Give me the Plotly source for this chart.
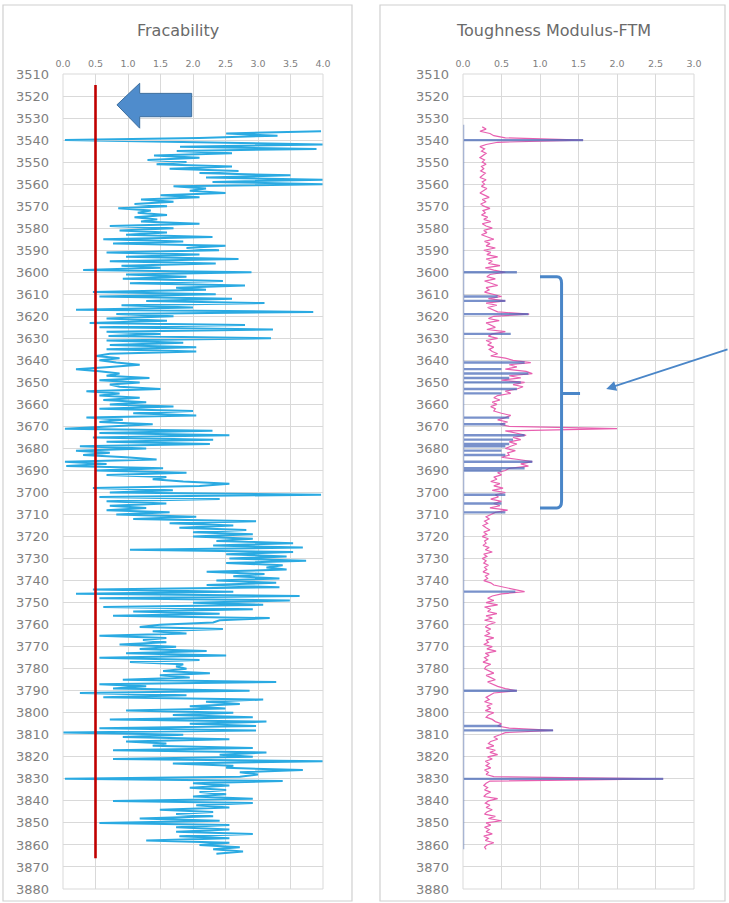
import numpy as np
import plotly.graph_objects as go

# ---------------------------------------------------------------- data
# Fracability log, one sample per metre starting at 3536 m
frac_top = 3536
frac_values = [
    3.97, 2.51, 3.3, 2.1, 0.03, 2.4, 4.0, 1.8, 3.9, 1.75,
    2.6, 1.4, 2.1, 1.3, 1.9, 1.44, 2.6, 1.64, 2.7, 2.1,
    3.5, 2.2, 4.0, 2.3, 4.0, 1.7, 2.2, 1.95, 2.5, 1.5,
    2.1, 1.2, 1.7, 1.1, 1.6, 0.85, 1.35, 1.15, 1.6, 1.1,
    1.45, 1.2, 2.1, 0.72, 1.7, 0.87, 1.6, 0.97, 2.3, 0.62,
    1.85, 0.77, 2.5, 1.9, 2.4, 0.67, 2.1, 0.97, 2.7, 0.72,
    2.35, 0.9, 1.5, 0.31, 2.9, 0.97, 1.9, 0.92, 2.46, 1.03,
    2.8, 1.74, 2.2, 0.46, 2.35, 0.56, 2.6, 1.28, 3.1, 0.9,
    2.0, 0.2, 3.85, 0.82, 1.7, 0.67, 1.6, 0.41, 2.8, 0.56,
    3.23, 0.67, 1.5, 0.7, 3.2, 0.67, 1.85, 0.72, 2.05, 0.67,
    2.05, 0.72, 0.51, 0.87, 0.56, 0.82, 1.18, 0.72, 0.2, 0.56,
    0.87, 0.67, 1.33, 0.56, 1.18, 0.72, 0.87, 1.5, 0.36, 0.87,
    0.56, 1.18, 0.62, 1.28, 0.72, 1.7, 0.56, 2.0, 1.08, 2.05,
    0.36, 0.92, 0.56, 1.38, 0.62, 0.03, 2.3, 0.56, 2.56, 0.46,
    2.31, 0.67, 2.26, 0.26, 1.28, 0.2, 0.72, 0.31, 0.97, 1.44,
    0.03, 0.67, 0.05, 1.54, 0.51, 1.9, 0.67, 1.59, 1.38, 1.85,
    2.56, 2.1, 0.46, 1.69, 0.72, 3.97, 0.56, 2.41, 0.67, 1.59,
    0.72, 1.28, 0.67, 1.64, 0.82, 2.05, 1.08, 2.97, 1.64, 2.62,
    1.79, 2.82, 2.0, 2.92, 2.0, 2.92, 2.36, 3.54, 2.31, 3.69,
    1.03, 3.54, 2.51, 3.44, 2.56, 3.74, 2.51, 3.38, 3.13, 3.44,
    2.21, 3.1, 2.62, 3.33, 2.36, 3.28, 2.21, 3.33, 0.46, 2.62,
    0.2, 3.64, 0.56, 3.49, 2.0, 3.08, 0.62, 2.92, 1.08, 2.41,
    0.77, 3.18, 2.41, 2.31, 1.49, 1.18, 2.46, 1.38, 1.9, 0.56,
    1.59, 1.23, 1.59, 0.87, 1.74, 1.18, 2.21, 0.97, 2.51, 0.56,
    2.1, 1.03, 1.85, 1.74, 1.9, 1.54, 2.26, 1.49, 1.95, 0.92,
    3.28, 0.56, 1.28, 0.77, 2.87, 0.26, 1.9, 0.62, 3.08, 2.2,
    2.72, 1.95, 2.5, 0.97, 2.62, 1.69, 2.92, 0.72, 3.13, 1.95,
    2.97, 0.56, 2.97, 0.0, 1.85, 0.92, 2.56, 0.97, 1.59, 1.38,
    2.92, 0.77, 3.13, 2.41, 2.92, 0.77, 4.0, 1.69, 2.62, 2.51,
    3.69, 2.72, 3.0, 2.72, 0.03, 3.38, 2.0, 2.56, 1.95, 2.51,
    2.1, 2.51, 2.0, 2.92, 0.77, 2.92, 2.05, 2.56, 1.49, 2.31,
    1.74, 2.31, 1.18, 2.41, 0.56, 2.56, 1.74, 2.56, 1.74, 2.92,
    1.79, 2.56, 1.28, 2.56, 2.1, 2.72, 2.31, 2.77, 2.36,
]

# Fracability cut-off line
cutoff_value = 0.5
cutoff_depths = [3515, 3866]

# Toughness modulus (FTM) log, one sample per metre starting at 3534 m
ftm_top = 3534
ftm_values = [
    0.25, 0.30, 0.22, 0.35, 0.40, 0.55, 1.56, 0.45, 0.30, 0.22,
    0.28, 0.24, 0.30, 0.26, 0.22, 0.28, 0.25, 0.30, 0.24, 0.27,
    0.23, 0.29, 0.26, 0.22, 0.30, 0.25, 0.28, 0.24, 0.31, 0.26,
    0.22, 0.28, 0.34, 0.25, 0.30, 0.23, 0.27, 0.35, 0.26, 0.29,
    0.24, 0.32, 0.27, 0.36, 0.25, 0.30, 0.38, 0.27, 0.31, 0.24,
    0.33, 0.40, 0.28, 0.35, 0.30, 0.42, 0.27, 0.36, 0.31, 0.45,
    0.30, 0.38, 0.33, 0.48, 0.29, 0.40, 0.55, 0.35, 0.31, 0.42,
    0.28, 0.37, 0.45, 0.30, 0.34, 0.28, 0.40, 0.50, 0.33, 0.55,
    0.30, 0.44, 0.32, 0.38, 0.45, 0.86, 0.40, 0.33, 0.47, 0.30,
    0.36, 0.42, 0.31, 0.55, 0.38, 0.33, 0.45, 0.30, 0.37, 0.32,
    0.40, 0.34, 0.38, 0.45, 0.36, 0.55, 0.65, 0.88, 0.60, 0.70,
    0.55, 0.82, 0.90, 0.60, 0.75, 0.50, 0.80, 0.65, 0.78, 0.70,
    0.55, 0.62, 0.45, 0.40, 0.48, 0.38, 0.44, 0.36, 0.42, 0.40,
    0.50, 0.62, 0.55, 0.45, 0.58, 0.48, 0.60, 2.00, 0.55, 0.70,
    0.82, 0.65, 0.75, 0.60, 0.70, 0.62, 0.55, 0.68, 0.58, 0.60,
    0.50, 0.72, 0.90, 0.75, 0.85, 0.60, 0.55, 0.45, 0.50, 0.40,
    0.44, 0.36, 0.48, 0.40, 0.52, 0.38, 0.55, 0.42, 0.46, 0.36,
    0.50, 0.40, 0.48, 0.35, 0.58, 0.42, 0.36, 0.30, 0.34, 0.28,
    0.32, 0.26, 0.30, 0.35, 0.27, 0.31, 0.25, 0.33, 0.28, 0.30,
    0.26, 0.34, 0.29, 0.38, 0.27, 0.31, 0.25, 0.30, 0.27, 0.33,
    0.28, 0.31, 0.26, 0.34, 0.29, 0.32, 0.27, 0.36, 0.40, 0.55,
    0.65, 0.80, 0.50, 0.38, 0.32, 0.40, 0.30, 0.45, 0.28, 0.36,
    0.32, 0.44, 0.30, 0.38, 0.28, 0.42, 0.33, 0.29, 0.36, 0.30,
    0.35, 0.28, 0.40, 0.30, 0.33, 0.27, 0.38, 0.31, 0.43, 0.29,
    0.34, 0.28, 0.32, 0.26, 0.36, 0.30, 0.28, 0.34, 0.40, 0.30,
    0.36, 0.42, 0.32, 0.38, 0.45, 0.55, 0.70, 0.40, 0.35, 0.30,
    0.34, 0.28, 0.38, 0.31, 0.36, 0.29, 0.40, 0.33, 0.30, 0.38,
    0.42, 0.50, 0.45, 0.60, 1.17, 0.55, 0.48, 0.40, 0.45, 0.36,
    0.33, 0.40, 0.30, 0.42, 0.35, 0.45, 0.32, 0.38, 0.29, 0.34,
    0.30, 0.36, 0.28, 0.33, 0.30, 0.40, 2.60, 0.35, 0.30, 0.27,
    0.32, 0.28, 0.36, 0.30, 0.27, 0.45, 0.33, 0.29, 0.35, 0.30,
    0.38, 0.31, 0.28, 0.42, 0.33, 0.50, 0.30, 0.36, 0.28, 0.34,
    0.30, 0.38, 0.27, 0.33, 0.29, 0.40, 0.31, 0.28, 0.30,
]

# Flagged intervals: zero everywhere except at these depths
flag_span = [3533, 3862]
flag_depths = [3540, 3600, 3611, 3613, 3619, 3628, 3641, 3644, 3646, 3648,
               3650, 3653, 3655, 3666, 3669, 3674, 3676, 3678, 3679, 3681,
               3683, 3686, 3689, 3690, 3701, 3705, 3709, 3745, 3790, 3806,
               3808, 3830]
flag_values = [1.56, 0.70, 0.45, 0.55, 0.85, 0.62, 0.80, 0.50, 0.85, 0.60,
               0.75, 0.70, 0.50, 0.60, 0.55, 0.80, 0.65, 0.60, 0.55, 0.50,
               0.55, 0.90, 0.80, 0.50, 0.55, 0.50, 0.55, 0.68, 0.70, 0.50,
               1.17, 2.60]

depth_range = [3510, 3880]
frac_range = [0.0, 4.0]
ftm_range = [0.0, 3.0]

# ---------------------------------------------------------------- helpers
W, H = 729, 903


def px(v):
    return v / W


def py(v):
    return 1 - v / H


frac_depth = np.arange(frac_top, frac_top + len(frac_values))
ftm_depth = np.arange(ftm_top, ftm_top + len(ftm_values))

# flag trace: baseline at zero with a horizontal excursion at each flagged depth
flag_x, flag_y = [0.0], [flag_span[0]]
for d, v in zip(flag_depths, flag_values):
    flag_x += [0.0, v, 0.0]
    flag_y += [d, d, d]
flag_x.append(0.0)
flag_y.append(flag_span[1])

BLUE_LOG = "#2aaae2"
GRID = "#d9d9d9"
LABEL = "#7f7f7f"
SHAPE_BLUE = "#4a86c8"
FONT = "DejaVu Sans"

fig = go.Figure()

fig.add_trace(go.Scatter(
    x=frac_values, y=frac_depth, mode="lines",
    line=dict(color=BLUE_LOG, width=2),
    xaxis="x", yaxis="y", showlegend=False, hoverinfo="skip"))

fig.add_trace(go.Scatter(
    x=[cutoff_value, cutoff_value], y=cutoff_depths, mode="lines",
    line=dict(color="#c00000", width=2.6),
    xaxis="x", yaxis="y", showlegend=False, hoverinfo="skip"))

fig.add_trace(go.Scatter(
    x=ftm_values, y=ftm_depth, mode="lines",
    line=dict(color="#e860b0", width=1.2),
    xaxis="x2", yaxis="y2", showlegend=False, hoverinfo="skip"))

fig.add_trace(go.Scatter(
    x=flag_x, y=flag_y, mode="lines",
    line=dict(color="#4668b8", width=2.4), opacity=0.72,
    xaxis="x2", yaxis="y2", showlegend=False, hoverinfo="skip"))

left_dom = [px(63), px(323)]
right_dom = [px(463), px(694)]
y_dom = [py(889), py(74)]

xaxis_common = dict(
    side="top", dtick=0.5, tickformat=".1f", showgrid=True,
    gridcolor=GRID, gridwidth=1, zeroline=False, showline=False,
    ticks="", tickfont=dict(family=FONT, size=9.5, color=LABEL),
    ticklabelstandoff=4, fixedrange=True, automargin=False,
)
yaxis_common = dict(
    range=depth_range[::-1], dtick=10, showgrid=True, gridcolor=GRID,
    gridwidth=1, zeroline=False, showline=False, ticks="",
    tickfont=dict(family=FONT, size=13, color=LABEL),
    ticklabelstandoff=13, domain=y_dom, fixedrange=True, automargin=False,
)

fig.update_layout(
    width=W, height=H, margin=dict(l=0, r=0, t=0, b=0, autoexpand=False),
    paper_bgcolor="white", plot_bgcolor="white",
    xaxis=dict(domain=left_dom, range=frac_range, anchor="y", **xaxis_common),
    yaxis=dict(anchor="x", **yaxis_common),
    xaxis2=dict(domain=right_dom, range=ftm_range, anchor="y2", **xaxis_common),
    yaxis2=dict(anchor="x2", **yaxis_common),
    font=dict(family=FONT),
)

shapes = [
    # panel frames
    dict(type="rect", xref="paper", yref="paper", x0=px(3), x1=px(352),
         y0=py(901), y1=py(5), line=dict(color="#d0d0d0", width=1.2)),
    dict(type="rect", xref="paper", yref="paper", x0=px(380), x1=px(725),
         y0=py(901), y1=py(5), line=dict(color="#d0d0d0", width=1.2)),
    # plot-area outlines
    dict(type="rect", xref="paper", yref="paper", x0=left_dom[0], x1=left_dom[1],
         y0=y_dom[0], y1=y_dom[1], line=dict(color=GRID, width=1)),
    dict(type="rect", xref="paper", yref="paper", x0=right_dom[0], x1=right_dom[1],
         y0=y_dom[0], y1=y_dom[1], line=dict(color=GRID, width=1)),
    # block arrow pointing at the cut-off line
    dict(type="path", xref="x", yref="y",
         path="M 0.83,3524 L 1.18,3514.2 L 1.18,3518.8 L 1.98,3518.8 "
              "L 1.98,3529.4 L 1.18,3529.4 L 1.18,3534.6 Z",
         fillcolor="#4f8ccc", line=dict(color="#3c6e9e", width=1)),
    # bracket marking the flagged interval
    dict(type="path", xref="x2", yref="y2",
         path="M 1.0,3602 L 1.22,3602 Q 1.28,3602 1.28,3605 L 1.28,3704 "
              "Q 1.28,3707 1.22,3707 L 1.0,3707 M 1.28,3655 L 1.52,3655",
         line=dict(color=SHAPE_BLUE, width=3)),
]
fig.update_layout(shapes=shapes)

fig.add_annotation(text="Fracability", xref="paper", yref="paper",
                   x=px(178), y=py(31), xanchor="center", yanchor="middle",
                   showarrow=False,
                   font=dict(family=FONT, size=16, color="#6a6a6a"))
fig.add_annotation(text="Toughness Modulus-FTM", xref="paper", yref="paper",
                   x=px(553), y=py(31), xanchor="center", yanchor="middle",
                   showarrow=False,
                   font=dict(family=FONT, size=16, color="#6a6a6a"))
fig.add_annotation(text="", xref="x2", yref="y2", x=1.86, y=3653,
                   ax=123, ay=-40, showarrow=True, arrowhead=2,
                   arrowsize=1.1, arrowwidth=1.8, arrowcolor=SHAPE_BLUE)

fig.write_html("out.html")
